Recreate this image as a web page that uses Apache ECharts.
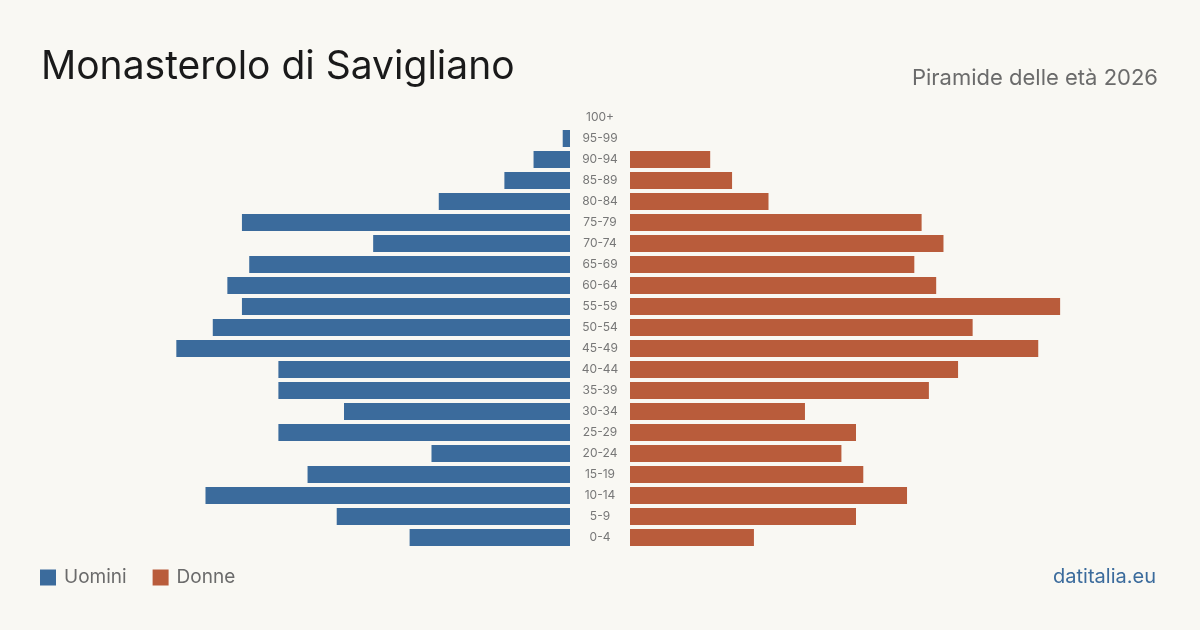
<!DOCTYPE html>
<html>
<head>
<meta charset="utf-8">
<script src="https://cdn.jsdelivr.net/npm/echarts@6/dist/echarts.min.js"></script>
<style>
  html, body { margin: 0; padding: 0; background: #f9f8f3; }
  #main { width: 1200px; height: 630px; }
</style>
</head>
<body>
<div id="main"></div>
<script>
// classi di età, dall'alto verso il basso
var ageGroups = ['100+', '95-99', '90-94', '85-89', '80-84', '75-79', '70-74', '65-69', '60-64', '55-59',
  '50-54', '45-49', '40-44', '35-39', '30-34', '25-29', '20-24', '15-19', '10-14', '5-9', '0-4'];
var uomini = [0, 1, 5, 9, 18, 45, 27, 44, 47, 45, 49, 54, 40, 40, 31, 40, 19, 36, 50, 32, 22];
var donne = [0, 0, 11, 14, 19, 40, 43, 39, 42, 59, 47, 56, 45, 41, 24, 31, 29, 32, 38, 31, 17];

var BLUE = '#3b6b9c';
var ORANGE = '#b95c3b';
var FONT = 'Inter, "Noto Sans", sans-serif';
var maxVal = 72.7;

var chart = echarts.init(document.getElementById('main'));
chart.setOption({
  backgroundColor: '#f9f8f3',
  animation: false,
  textStyle: { fontFamily: FONT },
  title: [
    {
      text: 'Monasterolo di Savigliano',
      left: 36, top: 43,
      textStyle: { fontSize: 39, fontWeight: 'normal', color: '#1a1a1a', fontFamily: FONT }
    },
    {
      text: 'Piramide delle età 2026',
      right: 37, top: 62,
      textStyle: { fontSize: 22, fontWeight: 'normal', color: '#6b6b6b', fontFamily: FONT }
    },
    {
      text: 'datitalia.eu',
      right: 39, top: 562,
      textStyle: { fontSize: 20, fontWeight: 'normal', color: '#3b6b9c', fontFamily: FONT }
    }
  ],
  legend: {
    left: 35, top: 563,
    itemWidth: 16, itemHeight: 16, itemGap: 26,
    icon: 'rect',
    textStyle: { fontSize: 19, color: '#6b6b6b', fontFamily: FONT, padding: [0, 0, 0, 3] },
    data: ['Uomini', 'Donne']
  },
  grid: [
    { left: 40, width: 530, top: 107, height: 441 },
    { left: 630, width: 530, top: 107, height: 441 }
  ],
  xAxis: [
    { gridIndex: 0, type: 'value', inverse: true, min: 0, max: maxVal, show: false },
    { gridIndex: 1, type: 'value', min: 0, max: maxVal, show: false }
  ],
  yAxis: [
    {
      gridIndex: 0, type: 'category', data: ageGroups, inverse: true, position: 'right',
      axisLine: { show: false }, axisTick: { show: false },
      axisLabel: { align: 'center', margin: 30, fontSize: 12, color: '#777', fontFamily: FONT }
    },
    {
      gridIndex: 1, type: 'category', data: ageGroups, inverse: true, show: false
    }
  ],
  series: [
    {
      name: 'Uomini', type: 'bar', xAxisIndex: 0, yAxisIndex: 0,
      data: uomini, barCategoryGap: '19%', itemStyle: { color: BLUE }
    },
    {
      name: 'Donne', type: 'bar', xAxisIndex: 1, yAxisIndex: 1,
      data: donne, barCategoryGap: '19%', itemStyle: { color: ORANGE }
    }
  ]
});
</script>
</body>
</html>
